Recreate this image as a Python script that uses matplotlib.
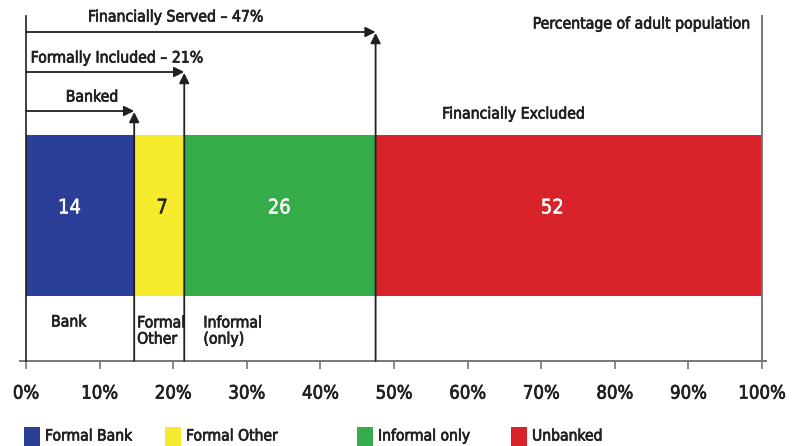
import matplotlib.pyplot as plt
import matplotlib.patheffects as pe
from matplotlib.patches import Rectangle

# --- data ---
segments = ["Formal Bank", "Formal Other", "Informal only", "Unbanked"]
shares = [14.7, 6.8, 26.0, 52.5]
bar_labels = ["14", "7", "26", "52"]
colors = ["#2B3F99", "#F5EA2B", "#34AC4A", "#D8232A"]
label_colors = ["white", "#222222", "white", "white"]
ticks = list(range(0, 101, 10))
tick_labels = [f"{t}%" for t in ticks]

# the reference uses a condensed grotesque; DejaVu Sans Condensed is the closest here
plt.rcParams["font.family"] = ["DejaVu Sans"]
plt.rcParams["font.stretch"] = "condensed"
TXT = "#231F20"


def heavy(color, lw=0.5):
    # thicken the glyphs a little, the original face is a medium weight
    return [pe.withStroke(linewidth=lw, foreground=color)]


W, H = 797, 446
fig = plt.figure(figsize=(W / 100, H / 100), dpi=100)
# axes: x=0 at px 26, x=100 at px 762; y=0 at the axis line (px 361), top at px 0
ax = fig.add_axes([26 / W, (H - 361) / H, 736 / W, 361 / H])
ax.set_xlim(0, 100)
ax.set_ylim(0, 361)

# stacked bar; value labels sit where the original put them, not exactly centred
label_x = [5.9, 18.5, 34.4, 71.5]
left = 0
bounds = []
for share, col, lab, lc, lx in zip(shares, colors, bar_labels, label_colors, label_x):
    ax.barh(145.5, share, height=161, left=left, color=col, edgecolor="none", zorder=2)
    ax.text(lx, 153, lab, ha="center", va="center", fontsize=14.5, color=lc, zorder=3,
            path_effects=heavy(lc, 0.3))
    left += share
    bounds.append(left)

ax.plot([0, 0], [0, 345], color=TXT, lw=1.2, zorder=4, clip_on=False)
ax.plot([100, 100], [0, 345], color="#777777", lw=1.4, zorder=4, clip_on=False)

# bracket arrows for Banked / Formally Included / Financially Served
levels = [250, 289, 329]
for x_end, lev in zip(bounds[:3], levels):
    aprops = dict(arrowstyle="-|>", color=TXT, lw=1.3, mutation_scale=15, shrinkA=0, shrinkB=0)
    ax.annotate("", xy=(x_end, lev), xytext=(0, lev), arrowprops=aprops, zorder=5)
    ax.annotate("", xy=(x_end, lev - 1), xytext=(x_end, 0), arrowprops=aprops, zorder=5)

kw = dict(fontsize=11.3, color=TXT, path_effects=heavy(TXT))
ax.text(20.4, 344, "Financially Served – 47%", ha="center", va="center", **kw)
ax.text(12.4, 303, "Formally Included – 21%", ha="center", va="center", **kw)
ax.text(9.0, 264, "Banked", ha="center", va="center", **kw)
ax.text(98.6, 337, "Percentage of adult population", ha="right", va="center", **kw)
ax.text(66.3, 247, "Financially Excluded", ha="center", va="center", **kw)
ax.text(3.4, 39, "Bank", ha="left", va="center", **kw)
ax.text(15.1, 30, "Formal\nOther", ha="left", va="center", linespacing=1.1, **kw)
ax.text(24.1, 30, "Informal\n(only)", ha="left", va="center", linespacing=1.1, **kw)

# axis styling
for s in ["top", "right", "left"]:
    ax.spines[s].set_visible(False)
ax.spines["bottom"].set_color("#777777")
ax.spines["bottom"].set_linewidth(1.4)
ax.spines["bottom"].set_bounds(-0.8, 100.5)
ax.set_yticks([])
ax.set_xticks(ticks)
ax.set_xticklabels(tick_labels, fontsize=13.3, color=TXT)
for t in ax.get_xticklabels():
    t.set_path_effects(heavy(TXT))
ax.tick_params(axis="x", direction="out", length=6, width=1.2, color="#777777", pad=11)

# legend, placed by hand to match the uneven spacing
leg_x = [24, 165, 357, 511]
for x0, col, name in zip(leg_x, colors, segments):
    fig.add_artist(Rectangle((x0 / W, 0), 16 / W, 19 / H, transform=fig.transFigure,
                             facecolor=col, edgecolor="none"))
    fig.text((x0 + 21) / W, 10 / H, name, ha="left", va="center", fontsize=11.2, color=TXT,
             path_effects=heavy(TXT))

fig.savefig("out.png", dpi=100)
